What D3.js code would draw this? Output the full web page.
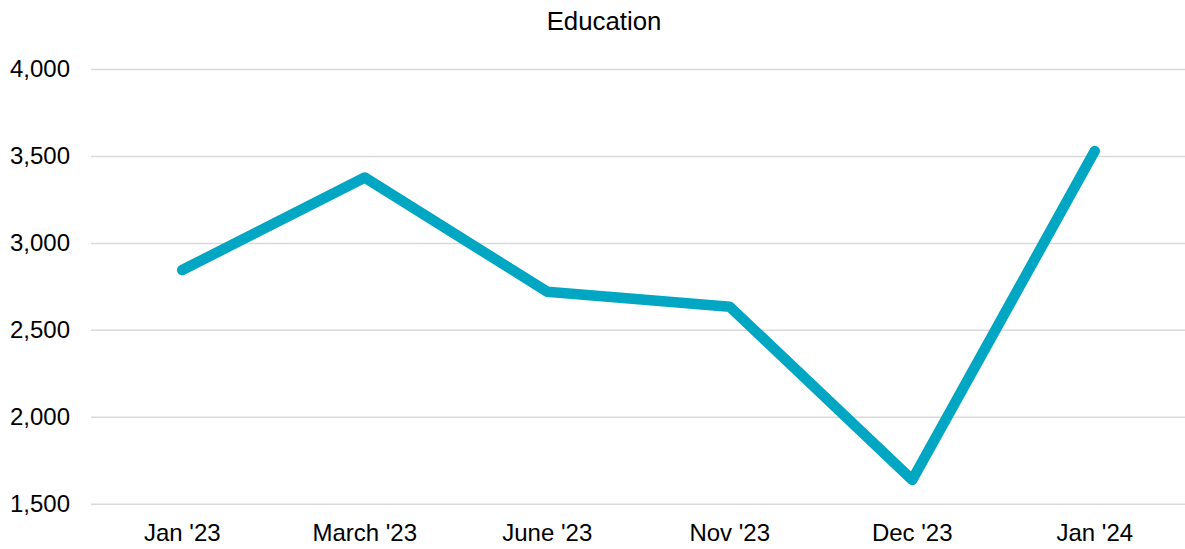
<!DOCTYPE html>
<html>
<head>
<meta charset="utf-8">
<script src="https://cdn.jsdelivr.net/npm/d3@7"></script>
<style>
  body { margin: 0; background: #fff; }
  svg { display: block; font-family: "Liberation Sans", Arial, sans-serif; }
</style>
</head>
<body>
<div class="chart"></div>
<script>
// data
var months = ["Jan '23", "March '23", "June '23", "Nov '23", "Dec '23", "Jan '24"];
var education = [2844, 3376, 2719, 2633, 1637, 3528];
var yTicks = [1500, 2000, 2500, 3000, 3500, 4000];

var width = 1185;
var height = 549;

var svg = d3.select(".chart")
    .append("svg")
    .attr("width", width)
    .attr("height", height);

// scales
var x = d3.scaleBand()
    .domain(months)
    .range([91, 1186])
    .padding(0);

var y = d3.scaleLinear()
    .domain([1500, 4000])
    .range([503.7, 69]);

// title
svg.append("text")
    .text("Education")
    .attr("x", 604)
    .attr("y", 30)
    .attr("text-anchor", "middle")
    .attr("font-size", "25.8px")
    .attr("fill", "#000");

// y axis, just gridlines + labels
var yAxis = d3.axisLeft(y)
    .tickValues(yTicks)
    .tickSize(-(1186 - 91))
    .tickPadding(21)
    .tickFormat(d3.format(","));

var yg = svg.append("g")
    .attr("transform", "translate(91,0)")
    .call(yAxis);

yg.select(".domain").remove();
yg.selectAll(".tick line")
    .attr("stroke", "#d9d9d9")
    .attr("stroke-width", 1.5);
yg.selectAll(".tick text")
    .attr("font-size", "24px")
    .attr("font-family", "Liberation Sans, Arial, sans-serif")
    .attr("fill", "#000");

// x axis, labels only
var xAxis = d3.axisBottom(x)
    .tickSize(0)
    .tickPadding(20);

var xg = svg.append("g")
    .attr("transform", "translate(0,503.7)")
    .call(xAxis);

xg.select(".domain").remove();
xg.selectAll(".tick text")
    .attr("font-size", "24px")
    .attr("font-family", "Liberation Sans, Arial, sans-serif")
    .attr("fill", "#000");

// the line
var line = d3.line()
    .x(function(d, i) { return x(months[i]) + x.bandwidth() / 2; })
    .y(function(d) { return y(d); });

svg.append("path")
    .datum(education)
    .attr("d", line)
    .attr("fill", "none")
    .attr("stroke", "#00a6c2")
    .attr("stroke-width", 10.5)
    .attr("stroke-linecap", "round")
    .attr("stroke-linejoin", "round");
</script>
</body>
</html>
